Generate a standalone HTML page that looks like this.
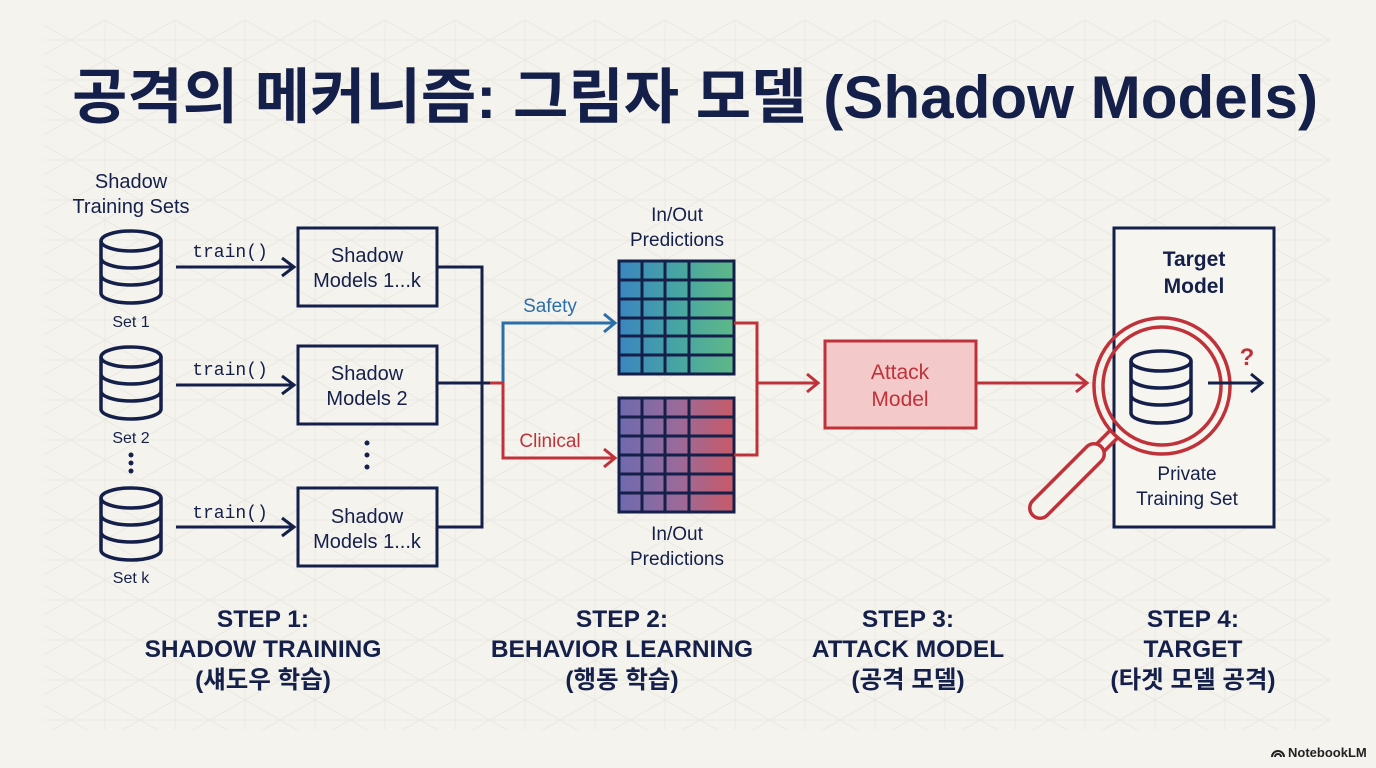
<!DOCTYPE html>
<html><head><meta charset="utf-8">
<style>
html,body{margin:0;padding:0;background:#f5f3ee;}
svg{display:block}
text{font-family:"Liberation Sans","Noto Sans CJK KR",sans-serif;}
text.mono{font-family:"Liberation Mono","DejaVu Sans Mono",monospace;}
</style></head>
<body>
<svg width="1376" height="768" viewBox="0 0 1376 768" xmlns="http://www.w3.org/2000/svg">
<defs>
<pattern id="tri" width="70" height="40" patternUnits="userSpaceOnUse">
<path d="M0 0H70M0 40H70M0 0L70 40M70 0L0 40M35 0V40" stroke="#ebe8e1" stroke-width="1" fill="none"/>
</pattern>
<linearGradient id="g1" x1="0" x2="1"><stop offset="0" stop-color="#3a86bf"/><stop offset="0.5" stop-color="#47a5a3"/><stop offset="1" stop-color="#5fb888"/></linearGradient>
<linearGradient id="g2" x1="0" x2="1"><stop offset="0" stop-color="#6e6aae"/><stop offset="0.5" stop-color="#9a6a9a"/><stop offset="1" stop-color="#c85a68"/></linearGradient>
<g id="db" fill="none" stroke="#14204a" stroke-width="3.5">
<ellipse cx="0" cy="0" rx="30" ry="10"/>
<path d="M-30 0V52M30 0V52M-30 17a30 10 0 0 0 60 0M-30 34a30 10 0 0 0 60 0M-30 52a30 10 0 0 0 60 0"/>
</g>
</defs>
<rect x="0" y="0" width="1376" height="768" fill="#f5f3ee"/>
<rect x="45" y="20" width="1285" height="710" fill="url(#tri)"/>

<text x="695" y="118" text-anchor="middle" font-size="60" font-weight="bold" fill="#14204a" textLength="1246" lengthAdjust="spacingAndGlyphs">공격의 메커니즘: 그림자 모델 (Shadow Models)</text>

<g fill="#14204a" font-size="20" text-anchor="middle">
<text x="131" y="188">Shadow</text>
<text x="131" y="213">Training Sets</text>
</g>
<use href="#db" x="131" y="241"/>
<use href="#db" x="131" y="357"/>
<use href="#db" x="131" y="498"/>
<g fill="#14204a" font-size="16" text-anchor="middle">
<text x="131" y="327">Set 1</text>
<text x="131" y="443">Set 2</text>
<text x="131" y="583">Set k</text>
</g>
<g fill="#14204a"><circle cx="131" cy="455" r="2.5"/><circle cx="131" cy="463" r="2.5"/><circle cx="131" cy="471" r="2.5"/>
<circle cx="367" cy="443" r="2.5"/><circle cx="367" cy="455" r="2.5"/><circle cx="367" cy="467" r="2.5"/></g>

<g stroke="#14204a" stroke-width="3" fill="none">
<path d="M176 267H294M282 258l12 9-12 9"/>
<path d="M176 385H294M282 376l12 9-12 9"/>
<path d="M176 527H294M282 518l12 9-12 9"/>
<rect x="298" y="228" width="139" height="78"/>
<rect x="298" y="346" width="139" height="78"/>
<rect x="298" y="488" width="139" height="78"/>
<path d="M437 267H482V527H437M437 383H490"/>
</g>
<g fill="#14204a" font-size="18" text-anchor="middle">
<text class="mono" x="230" y="257">train()</text>
<text class="mono" x="230" y="375">train()</text>
<text class="mono" x="230" y="518">train()</text>
</g>
<g fill="#14204a" font-size="20" text-anchor="middle">
<text x="367" y="262">Shadow</text><text x="367" y="287">Models 1...k</text>
<text x="367" y="380">Shadow</text><text x="367" y="405">Models 2</text>
<text x="367" y="523">Shadow</text><text x="367" y="548">Models 1...k</text>
</g>

<path d="M490 383H503V323H614M604 314l11 9-11 9" stroke="#2c6fa8" stroke-width="3" fill="none"/>
<path d="M490 383H503V458H614M604 449l11 9-11 9" stroke="#c0323a" stroke-width="3" fill="none"/>
<text x="550" y="312" fill="#2c6fa8" font-size="19" text-anchor="middle">Safety</text>
<text x="550" y="447" fill="#c0323a" font-size="19" text-anchor="middle">Clinical</text>

<g fill="#14204a" font-size="19" text-anchor="middle">
<text x="677" y="221">In/Out</text><text x="677" y="246">Predictions</text>
<text x="677" y="540">In/Out</text><text x="677" y="565">Predictions</text>
</g>
<rect x="619" y="261" width="115" height="113" fill="url(#g1)"/>
<rect x="619" y="398" width="115" height="114" fill="url(#g2)"/>
<g stroke="#14204a" stroke-width="3" fill="none">
<rect x="619" y="261" width="115" height="113"/>
<path d="M642 261V374M665 261V374M689 261V374M619 280H734M619 299H734M619 318H734M619 336H734M619 355H734"/>
<rect x="619" y="398" width="115" height="114"/>
<path d="M642 398V512M665 398V512M689 398V512M619 417H734M619 436H734M619 455H734M619 474H734M619 493H734"/>
</g>
<path d="M734 323H757V455H734M757 383H818M807 374l11 9-11 9" stroke="#c0323a" stroke-width="3" fill="none"/>

<rect x="825" y="341" width="151" height="87" fill="#f3c9c9" stroke="#c0323a" stroke-width="3"/>
<text x="900" y="379" fill="#c0323a" font-size="21" text-anchor="middle">Attack</text>
<text x="900" y="406" fill="#c0323a" font-size="21" text-anchor="middle">Model</text>
<path d="M976 383H1087M1076 374l11 9-11 9" stroke="#c0323a" stroke-width="3" fill="none"/>

<rect x="1114" y="228" width="160" height="299" fill="#f7f5f0" stroke="#14204a" stroke-width="3"/>
<text x="1194" y="266" fill="#14204a" font-size="21" text-anchor="middle" font-weight="bold">Target</text>
<text x="1194" y="293" fill="#14204a" font-size="21" text-anchor="middle" font-weight="bold">Model</text>
<!-- magnifier handle -->
<path d="M1114 434L1096 452" stroke="#c0323a" stroke-width="14" stroke-linecap="butt"/>
<path d="M1114 434L1096 452" stroke="#f5f3ee" stroke-width="7" stroke-linecap="butt"/>
<path d="M1094 454L1040 508" stroke="#c0323a" stroke-width="24" stroke-linecap="round"/>
<path d="M1094 454L1040 508" stroke="#f5f3ee" stroke-width="17" stroke-linecap="round"/>
<g stroke="#c0323a" stroke-width="3.5" fill="none">
<circle cx="1162" cy="386" r="68"/>
<circle cx="1162" cy="386" r="59"/>
</g>
<use href="#db" x="1161" y="361"/>
<path d="M1208 383H1262M1251 374l11 9-11 9" stroke="#14204a" stroke-width="3" fill="none"/>
<text x="1247" y="365" fill="#c0323a" font-size="24" font-weight="bold" text-anchor="middle">?</text>
<text x="1187" y="480" fill="#14204a" font-size="19" text-anchor="middle">Private</text>
<text x="1187" y="505" fill="#14204a" font-size="19" text-anchor="middle">Training Set</text>

<g fill="#14204a" font-size="24.5" font-weight="bold" text-anchor="middle">
<text x="263" y="627">STEP 1:</text><text x="263" y="657">SHADOW TRAINING</text><text x="263" y="688">(섀도우 학습)</text>
<text x="622" y="627">STEP 2:</text><text x="622" y="657">BEHAVIOR LEARNING</text><text x="622" y="688">(행동 학습)</text>
<text x="908" y="627">STEP 3:</text><text x="908" y="657">ATTACK MODEL</text><text x="908" y="688">(공격 모델)</text>
<text x="1193" y="627">STEP 4:</text><text x="1193" y="657">TARGET</text><text x="1193" y="688">(타겟 모델 공격)</text>
</g>
<text x="1288" y="757" fill="#222" font-size="13" font-weight="bold">NotebookLM</text>
<path d="M1272 757a6 6 0 0 1 12 0M1275 757a3 3 0 0 1 6 0" stroke="#222" stroke-width="2" fill="none"/>
</svg>
</body></html>
